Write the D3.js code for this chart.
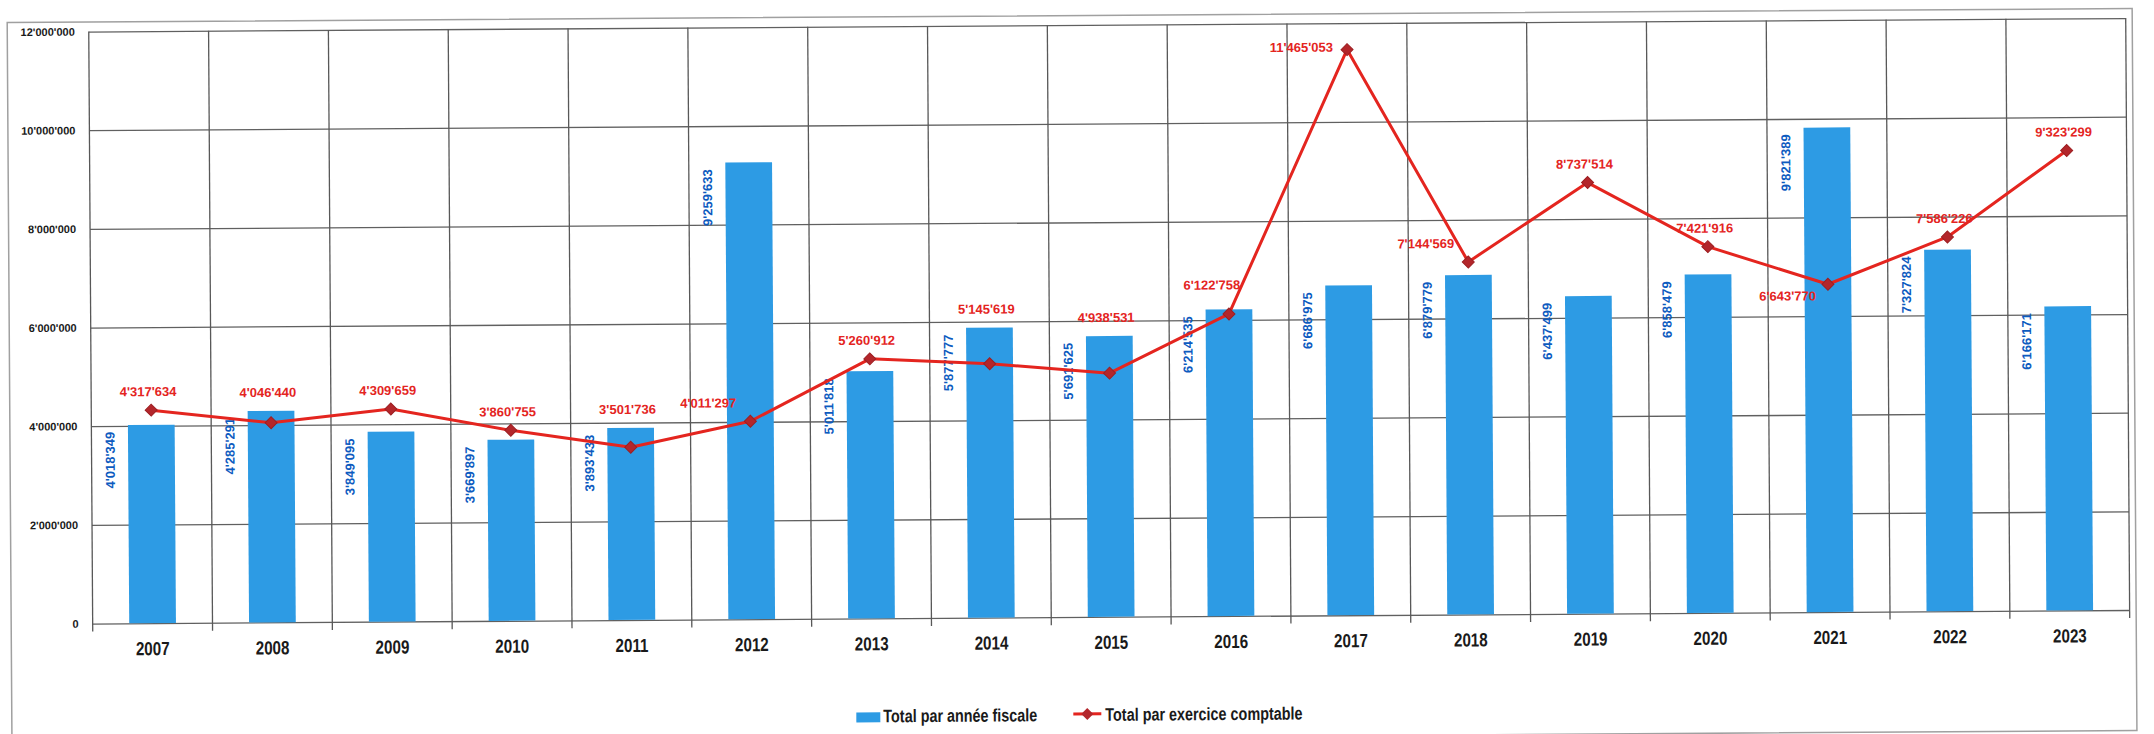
<!DOCTYPE html>
<html>
<head>
<meta charset="utf-8">
<script src="https://cdn.jsdelivr.net/npm/d3@7"></script>
<style>
  html, body { margin: 0; padding: 0; background: #fff; }
  svg { display: block; }
  .tick text { font-family: "Liberation Sans", Arial, sans-serif; }
</style>
</head>
<body>
<svg id="chart" width="2154" height="734"></svg>
<script>
// values
var years = ["2007", "2008", "2009", "2010", "2011", "2012", "2013", "2014", "2015",
             "2016", "2017", "2018", "2019", "2020", "2021", "2022", "2023"];
var fiscalTotals = [4018349, 4285291, 3849095, 3669897, 3893433, 9259633, 5011818, 5877777, 5691625,
                    6214535, 6686975, 6879779, 6437499, 6858479, 9821389, 7327824, 6166171];
var accountingTotals = [4317634, 4046440, 4309659, 3860755, 3501736, 4011297, 5260912, 5145619, 4938531,
                        6122758, 11465053, 7144569, 8737514, 7421916, 6643770, 7586226, 9323299];
var yTicks = [0, 2000000, 4000000, 6000000, 8000000, 10000000, 12000000];
var legendLabels = ["Total par année fiscale", "Total par exercice comptable"];

var blue = "#2d9be4", blueText = "#0d5bbf", red = "#e4251f", redDark = "#b3262b";
var sans = "'Liberation Sans', Arial, sans-serif";
var squeeze = "scale(0.8,1)";   // the scan uses a narrow face

var fmt = d3.formatLocale({decimal: ".", thousands: "'", grouping: [3], currency: ["", ""]}).format(",d");

var svg = d3.select("#chart"),
    width = +svg.attr("width"),
    height = +svg.attr("height");

var plotLeft = 91, plotRight = 2128, plotTop = 25, plotBottom = 617;

// the scan is slightly tilted
var g = svg.append("g")
    .attr("transform", "rotate(-0.38 " + width / 2 + " " + height / 2 + ")");

g.append("rect")
    .attr("x", 9.5).attr("y", 15.5)
    .attr("width", 2125).attr("height", 722)
    .attr("fill", "none")
    .attr("stroke", "#a0a0a0")
    .attr("stroke-width", 1.5);

var x = d3.scaleBand().domain(years).range([plotLeft, plotRight]).paddingInner(0.61).paddingOuter(0.305),
    y = d3.scaleLinear().domain([0, 12000000]).range([plotBottom, plotTop]);

var step = x.step();

// y axis + horizontal grid
var yAxis = g.append("g")
    .attr("class", "axis axis--y")
    .attr("transform", "translate(" + plotLeft + ",0)")
    .call(d3.axisLeft(y).tickValues(yTicks).tickSize(-(plotRight - plotLeft)).tickPadding(14).tickFormat(fmt));
yAxis.select(".domain").remove();
yAxis.selectAll("line").attr("stroke", "#606060").attr("stroke-width", 1.3);
yAxis.selectAll("text")
    .attr("font-size", 11).attr("font-weight", "bold").attr("fill", "#1a1a1a");

// vertical grid at category boundaries
g.append("g").selectAll("line")
  .data(d3.range(years.length + 1))
  .enter().append("line")
    .attr("x1", function(i) { return plotLeft + i * step; })
    .attr("x2", function(i) { return plotLeft + i * step; })
    .attr("y1", plotTop)
    .attr("y2", plotBottom + 8)
    .attr("stroke", "#585858")
    .attr("stroke-width", 1.3);

// x axis labels
var xAxis = g.append("g")
    .attr("class", "axis axis--x")
    .attr("transform", "translate(0," + plotBottom + ")")
    .call(d3.axisBottom(x).tickSize(0));
xAxis.select(".domain").remove();
xAxis.selectAll("text")
    .attr("y", 32).attr("dy", 0)
    .attr("transform", squeeze)
    .attr("font-size", 19).attr("font-weight", "bold").attr("fill", "#1a1a1a");

// bars
g.selectAll(".bar")
  .data(fiscalTotals)
  .enter().append("rect")
    .attr("class", "bar")
    .attr("x", function(d, i) { return x(years[i]); })
    .attr("y", function(d) { return y(d); })
    .attr("width", x.bandwidth())
    .attr("height", function(d) { return plotBottom - y(d); })
    .attr("fill", blue);

g.selectAll(".bar-label")
  .data(fiscalTotals)
  .enter().append("text")
    .attr("class", "bar-label")
    .attr("transform", function(d, i) {
      return "translate(" + (x(years[i]) - 18) + "," + (y(d) + 35) + ") rotate(-90)";
    })
    .attr("text-anchor", "middle")
    .attr("dy", "0.35em")
    .attr("font-family", sans)
    .attr("font-size", 13).attr("font-weight", "bold")
    .attr("fill", blueText)
    .text(function(d) { return fmt(d); });

// line
var cx = function(i) { return x(years[i]) + x.bandwidth() / 2; };
var line = d3.line()
    .x(function(d, i) { return cx(i); })
    .y(function(d) { return y(d); });

g.append("path")
    .datum(accountingTotals)
    .attr("fill", "none")
    .attr("stroke", red)
    .attr("stroke-width", 3)
    .attr("stroke-linejoin", "round")
    .attr("d", line);

var diamond = d3.symbol().type(d3.symbolSquare).size(72);
g.selectAll(".pt")
  .data(accountingTotals)
  .enter().append("path")
    .attr("class", "pt")
    .attr("transform", function(d, i) { return "translate(" + cx(i) + "," + y(d) + ") rotate(45)"; })
    .attr("d", diamond)
    .attr("fill", redDark)
    .attr("stroke", "#9c1f22")
    .attr("stroke-width", 1);

// point labels: above, or to the left when a bar or the line gets in the way
function labelSide(i) {
  var d = accountingTotals[i], prev = accountingTotals[i - 1], next = accountingTotals[i + 1];
  if (fiscalTotals[i] - d > 1000000) return prev > d ? "leftBelow" : "leftAbove";
  if (prev - d > 1000000 && next - d > 1000000) return "leftAbove";
  if (d - prev > 2000000 && d - next > 2000000) return "left";
  if (next - d > 2000000) return "aboveShifted";
  return "above";
}

g.selectAll(".pt-label")
  .data(accountingTotals)
  .enter().append("text")
    .attr("class", "pt-label")
    .each(function(d, i) {
      var side = labelSide(i), t = d3.select(this), px = cx(i), py = y(d),
          yAbove = Math.min(py, y(fiscalTotals[i])) - 14;
      if (side === "above") {
        t.attr("x", px - 3).attr("y", yAbove).attr("text-anchor", "middle");
      } else if (side === "aboveShifted") {
        t.attr("x", px - 17).attr("y", yAbove - 6).attr("text-anchor", "middle");
      } else if (side === "left") {
        t.attr("x", px - 14).attr("y", py + 2).attr("text-anchor", "end");
      } else if (side === "leftAbove") {
        t.attr("x", px - 14).attr("y", py - 14).attr("text-anchor", "end");
      } else {
        t.attr("x", px - 12).attr("y", py + 16).attr("text-anchor", "end");
      }
    })
    .attr("font-family", sans)
    .attr("font-size", 13).attr("font-weight", "bold")
    .attr("fill", red)
    .text(function(d) { return fmt(d); });

// legend
var legend = g.append("g").attr("transform", "translate(854,0)");
legend.append("rect")
    .attr("x", 0).attr("y", 711).attr("width", 24).attr("height", 10)
    .attr("fill", blue);
legend.append("g").attr("transform", "translate(27,721) " + squeeze)
  .append("text")
    .attr("font-family", sans).attr("font-size", 18).attr("font-weight", "bold").attr("fill", "#1a1a1a")
    .text(legendLabels[0]);
legend.append("line")
    .attr("x1", 217).attr("x2", 245).attr("y1", 714).attr("y2", 714)
    .attr("stroke", red).attr("stroke-width", 3);
legend.append("path")
    .attr("transform", "translate(231,714) rotate(45)")
    .attr("d", diamond)
    .attr("fill", redDark);
legend.append("g").attr("transform", "translate(249,721) " + squeeze)
  .append("text")
    .attr("font-family", sans).attr("font-size", 18).attr("font-weight", "bold").attr("fill", "#1a1a1a")
    .text(legendLabels[1]);
</script>
</body>
</html>
